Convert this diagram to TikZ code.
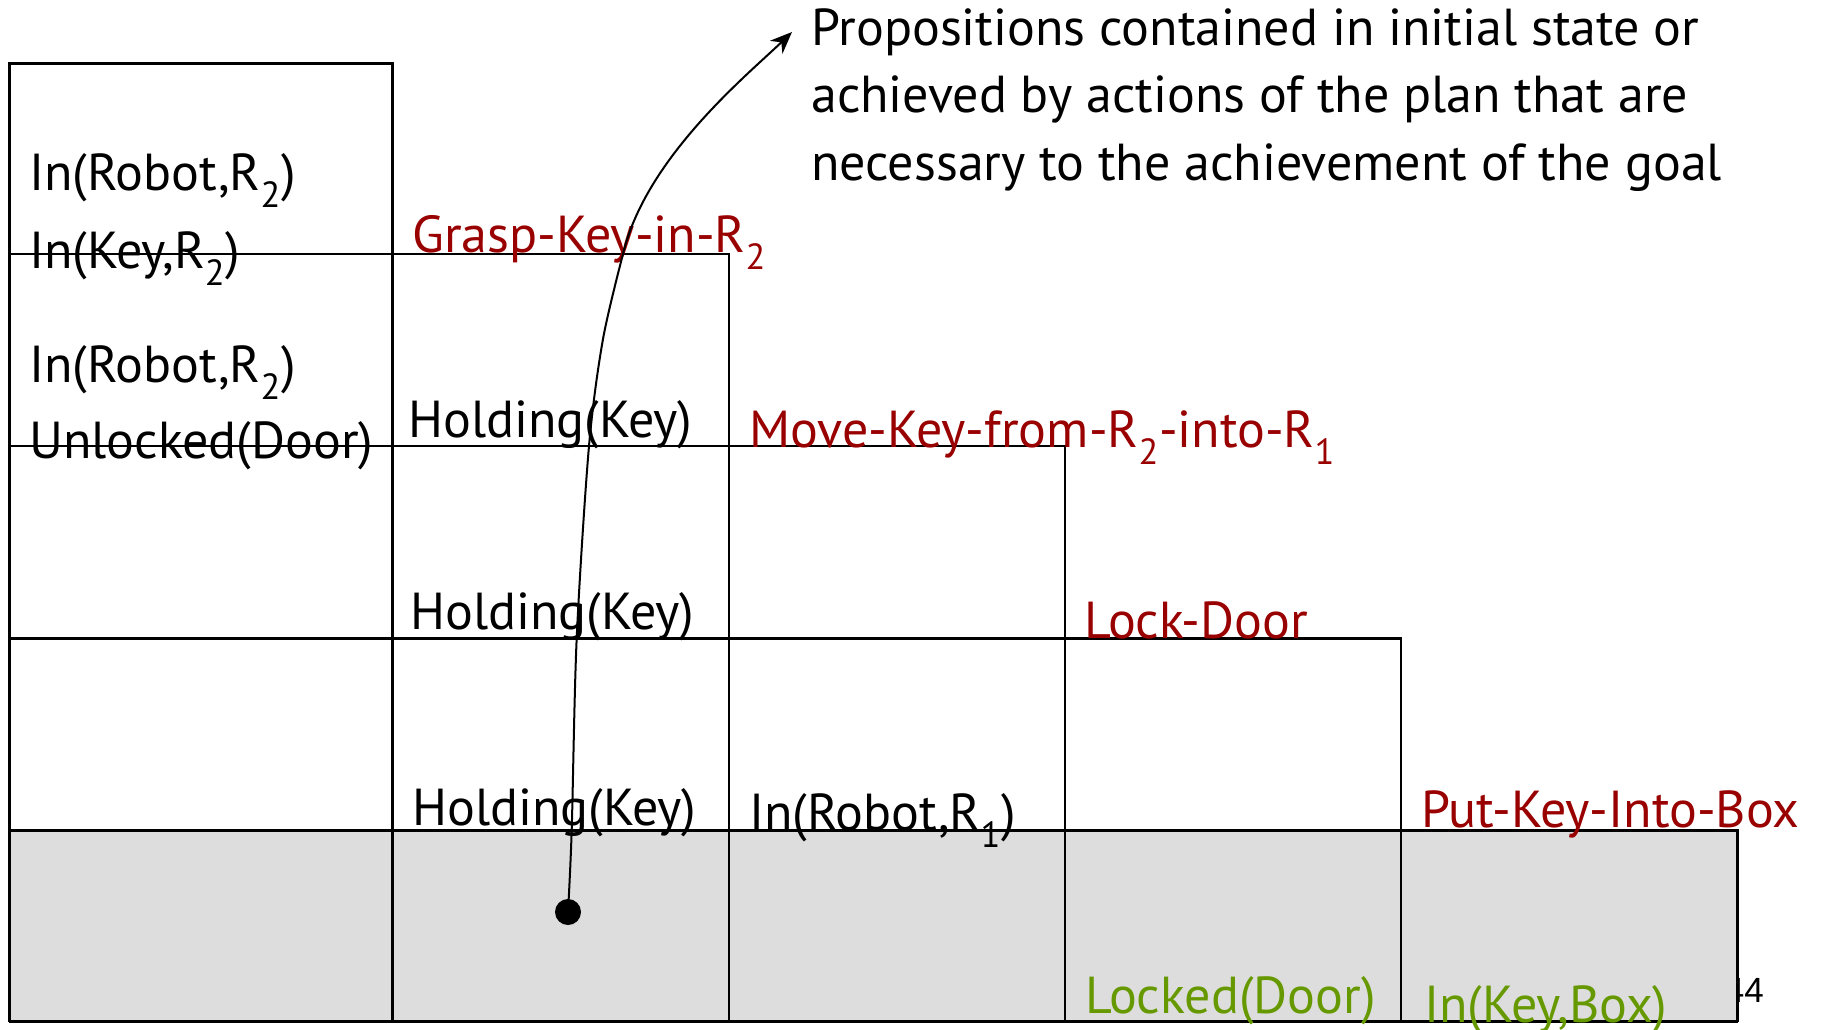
\documentclass[tikz,border=0pt]{standalone}
\usepackage{fontspec}
\setmainfont{PT Sans}
\newfontfamily\pagenofont{Liberation Sans}
\usetikzlibrary{arrows.meta}
\definecolor{actred}{RGB}{153,0,0}
\definecolor{goalgreen}{RGB}{102,153,0}
\definecolor{cellgray}{RGB}{221,221,221}

\begin{document}
\begin{tikzpicture}[x=1pt,y=-1pt,
  prop/.style={anchor=base west, inner sep=0pt, font=\fontsize{52}{62}\selectfont},
  act/.style={prop, text=actred},
  goal/.style={prop, text=goalgreen},
  gridline/.style={line width=2.4pt, line join=miter},
  dotnode/.style={circle, fill=black, inner sep=0pt, minimum size=26pt}]
\useasboundingbox (0,0) rectangle (1837,1029);
\clip (0,0) rectangle (1837,1029);

% slide number, partly covered by the goal row
\node[anchor=base east, inner sep=0pt, font=\pagenofont\fontsize{35}{40}\selectfont] (pageno) at (1764,1002) {44};

% goal row
\fill[cellgray] (9.4,830.6) rectangle (1737.5,1021.6);

% staircase of cells
\draw[gridline] (9.4,1021.6) -- (9.4,63.3) -- (392.5,63.3) -- (392.5,1021.6);
\draw[gridline] (9.4,254) -- (728.7,254) -- (728.7,1021.6);
\draw[gridline] (9.4,446) -- (1065,446) -- (1065,1021.6);
\draw[gridline] (9.4,638.5) -- (1401,638.5) -- (1401,1021.6);
\draw[gridline] (9.4,830.6) -- (1737.5,830.6) -- (1737.5,1021.6);
\draw[gridline] (9.4,1021.6) -- (1737.5,1021.6);

% initial state
\node[prop] (p1) at (29,190) {In(Robot,R\textsubscript{2})};
\node[prop] (p2) at (29,268) {In(Key,R\textsubscript{2})};
\node[prop] (p3) at (29,382) {In(Robot,R\textsubscript{2})};
\node[prop] (p4) at (29,458) {Unlocked(Door)};

% actions
\node[act] (a1) at (412,252) {Grasp-Key-in-R\textsubscript{2}};
\node[act] (a2) at (749,447) {Move-Key-from-R\textsubscript{2}-into-R\textsubscript{1}};
\node[act] (a3) at (1084,638) {Lock-Door};
\node[act] (a4) at (1421,827) {Put-Key-Into-Box};

% propositions achieved by actions
\node[prop] (h1) at (408,437) {Holding(Key)};
\node[prop] (h2) at (410,629) {Holding(Key)};
\node[prop] (h3) at (412,825) {Holding(Key)};
\node[prop] (r1) at (749,830) {In(Robot,R\textsubscript{1})};

% goal
\node[goal] (g1) at (1085,1013) {Locked(Door)};
\node[goal] (g2) at (1424,1022) {In(Key,Box)};

% explanation
\node[prop] (ann1) at (811,45) {Propositions contained in initial state or};
\node[prop] (ann2) at (811,112) {achieved by actions of the plan that are};
\node[prop] (ann3) at (811,180) {necessary to the achievement of the goal};

% pointer: nearly vertical rise, then a bend towards the explanation
\node[dotnode] (src) at (568,912) {};
\coordinate (bend) at (623,254);
\coordinate (tip) at (792,32);
\draw[line width=2pt, -{Stealth[length=22pt,width=18pt]}]
  plot[smooth] coordinates {(src.center) (571.7,830) (576.7,638) (589,446) (603,339) (bend)}
  .. controls (646,157) and (749,73.6) .. (tip);
\end{tikzpicture}
\end{document}
